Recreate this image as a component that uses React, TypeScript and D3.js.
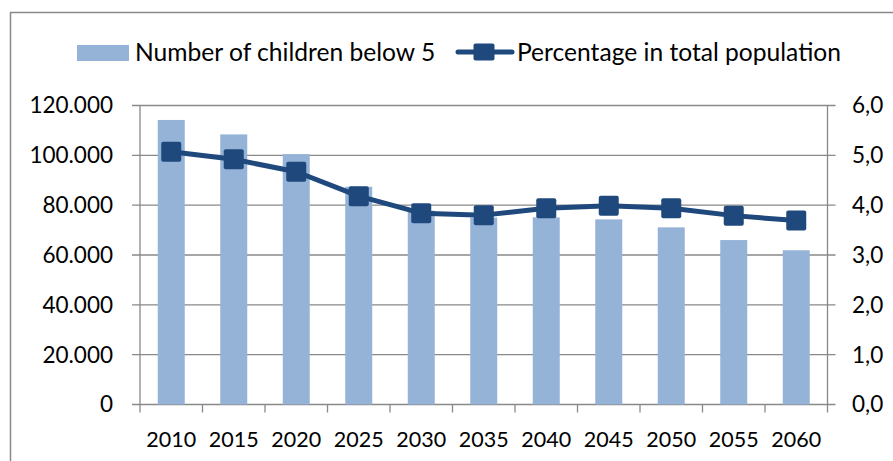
import React from "react";
import * as d3 from "d3";

const years = ["2010", "2015", "2020", "2025", "2030", "2035", "2040", "2045", "2050", "2055", "2060"];
const children = [114200, 108400, 100500, 87400, 77800, 75000, 75100, 74300, 71100, 66000, 61900];
const percentage = [5.07, 4.92, 4.67, 4.18, 3.84, 3.80, 3.94, 3.99, 3.94, 3.79, 3.69];
const leftTicks = [0, 20000, 40000, 60000, 80000, 100000, 120000];
const rightTicks = [0, 1, 2, 3, 4, 5, 6];
const seriesNames = ["Number of children below 5", "Percentage in total population"];

const W = 893;
const H = 461;
const plotLeft = 140;
const plotRight = 827.5;
const plotTop = 105.5;
const plotBottom = 404.5;
const barColor = "#95B3D7";
const lineColor = "#1F497D";
const gridColor = "#898989";
const FONT = "Lato, 'Open Sans', sans-serif";
const FS = 21.5;
const FSY = 22.5;
const FSL = 24.6;

const fmtLeft = (v: number) => (v === 0 ? "0" : d3.format(",")(v).replace(/,/g, "."));
const fmtRight = (v: number) => d3.format(".1f")(v).replace(".", ",");

export default function App() {
  const x = d3
    .scaleBand<string>()
    .domain(years)
    .range([plotLeft, plotRight])
    .paddingInner(0.568)
    .paddingOuter(0.284);
  const step = x.step();
  const xc = (y: string) => (x(y) as number) + x.bandwidth() / 2;
  const yL = d3.scaleLinear().domain([0, 120000]).range([plotBottom, plotTop]);
  const yR = d3.scaleLinear().domain([0, 6]).range([plotBottom, plotTop]);

  const line = d3
    .line<number>()
    .x((_, i) => xc(years[i]))
    .y((d) => yR(d));

  const boundaries = d3.range(years.length + 1).map((i) => plotLeft + i * step);
  const ms = 20;

  return (
    <svg
      width={W}
      height={H}
      style={{ position: "absolute", left: 0, top: 0, background: "#fff" }}
      fontFamily={FONT}
    >
      <rect x={0} y={0} width={W} height={H} fill="#fff" />
      {/* frame */}
      <path d={`M10.5,${H} V12.5 H${W}`} fill="none" stroke={gridColor} strokeWidth={1.5} />

      {/* gridlines */}
      {leftTicks.map((t) => (
        <line key={"g" + t} x1={plotLeft - 8} x2={plotRight + 8} y1={yL(t)} y2={yL(t)} stroke={gridColor} strokeWidth={1.3} />
      ))}
      {/* axes */}
      <line x1={plotLeft} x2={plotLeft} y1={plotTop} y2={plotBottom} stroke={gridColor} strokeWidth={1.3} />
      <line x1={plotRight} x2={plotRight} y1={plotTop} y2={plotBottom} stroke={gridColor} strokeWidth={1.3} />
      {boundaries.map((b, i) => (
        <line key={"t" + i} x1={b} x2={b} y1={plotBottom} y2={plotBottom + 8} stroke={gridColor} strokeWidth={1.3} />
      ))}

      {/* bars */}
      {children.map((v, i) => (
        <rect
          key={"b" + i}
          x={x(years[i])}
          y={yL(v)}
          width={x.bandwidth()}
          height={plotBottom - yL(v)}
          fill={barColor}
        />
      ))}

      {/* line */}
      <path d={line(percentage) || ""} fill="none" stroke={lineColor} strokeWidth={5} strokeLinejoin="round" />
      {percentage.map((v, i) => (
        <rect
          key={"m" + i}
          x={xc(years[i]) - ms / 2}
          y={yR(v) - ms / 2}
          width={ms}
          height={ms}
          rx={2}
          fill={lineColor}
        />
      ))}

      {/* left labels */}
      {leftTicks.map((t) => (
        <text key={"l" + t} x={113} y={yL(t)} dy="0.35em" textAnchor="end" fontSize={FSY} fill="#000">
          {fmtLeft(t)}
        </text>
      ))}
      {/* right labels */}
      {rightTicks.map((t) => (
        <text key={"r" + t} x={852} y={yR(t)} dy="0.35em" textAnchor="start" fontSize={FSY} fill="#000">
          {fmtRight(t)}
        </text>
      ))}
      {/* x labels */}
      {years.map((yv) => (
        <text key={"x" + yv} x={xc(yv)} y={446.5} textAnchor="middle" fontSize={FS} fill="#000">
          {yv}
        </text>
      ))}

      {/* legend */}
      <rect x={77} y={45} width={52} height={16} fill={barColor} />
      <text x={135} y={60.5} fontSize={FSL} fill="#000">
        {seriesNames[0]}
      </text>
      <line x1={458} x2={512} y1={52} y2={52} stroke={lineColor} strokeWidth={5} strokeLinecap="round" />
      <rect x={473.5} y={43.5} width={21} height={17} rx={2} fill={lineColor} />
      <text x={517} y={60.5} fontSize={FSL} fill="#000">
        {seriesNames[1]}
      </text>
    </svg>
  );
}
